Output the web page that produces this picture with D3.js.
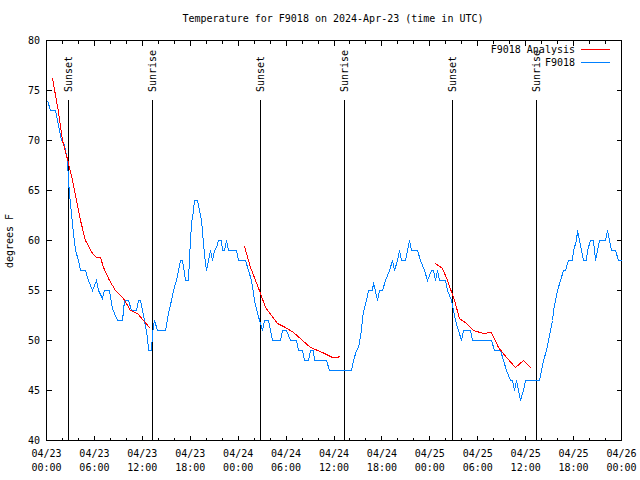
<!DOCTYPE html>
<html><head><meta charset="utf-8">
<script src="https://cdn.jsdelivr.net/npm/d3@7"></script>
<style>body{margin:0;background:#fff}svg{display:block}text{font-family:"DejaVu Sans Mono",monospace;font-size:10px;fill:#000}</style>
</head><body><svg id="c" width="640" height="480"></svg>
<script>
// hours since 2024-04-23 00:00 UTC
const obsHours = [0.13,0.5,1.13,1.38,1.88,2.13,2.38,2.63,2.75,2.88,3.13,3.38,3.63,4.01,4.26,4.88,5.26,5.76,6.26,6.51,7.01,7.26,7.89,8.26,8.51,8.89,9.52,9.77,10.27,10.64,11.27,11.52,11.77,12.27,12.65,12.77,13.15,13.27,13.52,13.9,14.9,15.28,15.65,15.9,16.28,16.53,16.78,17.03,17.41,17.78,17.91,18.16,18.41,18.53,18.91,19.16,19.41,19.66,19.91,20.04,20.29,20.54,20.79,21.04,21.29,21.54,21.91,22.04,22.29,22.54,22.79,23.79,24.04,24.92,25.3,25.67,26.05,26.42,26.8,27.05,27.3,27.8,28.3,29.3,29.55,30.05,30.55,31.3,31.56,32.06,32.31,32.81,33.06,33.43,33.56,35.06,35.44,38.19,38.44,38.82,39.07,39.44,39.57,39.82,40.07,40.32,40.82,40.95,41.45,41.7,42.08,42.45,42.95,43.33,43.58,43.95,44.2,44.45,44.95,45.2,45.45,45.7,46.46,46.83,47.33,47.71,48.21,48.46,48.71,48.96,49.21,49.96,50.21,50.71,51.21,51.59,51.97,52.22,53.09,53.34,55.72,56.1,56.85,57.23,57.6,58.1,58.35,58.6,58.85,59.1,59.35,59.73,59.98,61.73,61.98,62.24,62.61,62.86,63.11,63.36,63.49,63.74,63.99,64.36,64.74,64.99,65.36,65.86,65.99,66.37,66.49,66.74,66.99,67.24,67.62,67.74,68.12,68.49,68.75,69.0,69.25,70.0,70.25,70.5,70.75,71.25,71.63,72.0];
const obsTemps = [74,73,73,72,70,69.8,69,68,66,64.7,62.7,60.7,59,58,57,57,56,55,56,55,54.2,55,55,53.2,52.7,52,52,54,54,53,53,54,54,52,50.3,49,49,50.7,52,51,51,52.7,54,55,56,57,58,58,56,56,58.3,61.7,63,64,64,63,62,59.7,57.7,57,58,59,58,59,59.3,60,60,59,59,60,59,59,58,58,57,56,54,52.7,51.7,51,52,52,50,50,51,51,50,50,49,49,48,48,49,49,48,48,47,47,48,49,49.3,51,52.3,53.3,54,55,55,55.8,54,55,55,56,57,58,57,58,59,58,58,59,60,59,59,58,57,56,57,57,56,57,56,56,55,54,52,51,50,51,51,50,50,49,49,48,47,46,46,45,46,45,44,45,46,46,47,48,49,50,51,52,53,54,55,56,57,57,58,58,59,60,61,60,59,58,58,59,60,60,58,59,60,60,61,60,59,59,58,58];
// analysis: null separates segments
const anaHours = [0.75,1.47,2.0,2.67,3.26,3.76,4.26,4.88,5.76,6.26,6.76,7.14,7.89,8.64,9.64,10.52,11.4,12.15,12.9,null,
  24.79,25.55,26.8,27.42,28.93,29.93,30.93,32.06,33.06,34.56,35.81,36.31,36.81,null,
  48.71,49.59,50.21,51.09,51.72,52.59,53.47,54.72,55.72,56.6,57.6,58.73,59.73,60.73];
const anaTemps = [76.2,73,70,68,66,64,62,60,58.7,58.3,58.3,57.3,56,55,54.2,53,52.7,52,51.3,null,
  59.4,57.3,54.7,53.3,51.7,51.3,50.8,50,49.3,48.8,48.3,48.3,48.4,null,
  57.7,57.2,56,54,52.2,51.7,51,50.7,50.8,49.3,48.3,47.3,48,47.2];
const sunHours = [2.79,13.31,26.84,37.36,50.88,61.4];
const sunLabels = ["Sunset","Sunrise","Sunset","Sunrise","Sunset","Sunrise"];
const yTicks = [40,45,50,55,60,65,70,75,80];
const seriesNames = ["F9018 Analysis","F9018"];
const seriesColors = ["#ff0000","#0080ff"];

const base = Date.UTC(2024,3,23);
const toDate = h => new Date(base + h*3600000);
const svg = d3.select("#c");
const x = d3.scaleUtc().domain([toDate(0), toDate(72)]).range([46.5, 621.5]);
const y = d3.scaleLinear().domain([40,80]).range([440.5, 40.5]);

// title
svg.append("text").attr("x",333).attr("y",22).attr("text-anchor","middle")
  .text("Temperature for F9018 on 2024-Apr-23 (time in UTC)");
// y label
svg.append("text").attr("transform","translate(13,241) rotate(-90)").attr("text-anchor","middle")
  .text("degrees F");

const g = svg.append("g").attr("shape-rendering","crispEdges");
// frame
g.append("rect").attr("x",46.5).attr("y",40.5).attr("width",575).attr("height",400)
  .attr("fill","none").attr("stroke","#000");
// y ticks
yTicks.forEach(v=>{
  g.append("line").attr("x1",46.5).attr("x2",51.5).attr("y1",y(v)).attr("y2",y(v)).attr("stroke","#000");
  g.append("line").attr("x1",621.5).attr("x2",616.5).attr("y1",y(v)).attr("y2",y(v)).attr("stroke","#000");
  svg.append("text").attr("x",40).attr("y",y(v)).attr("dy","0.35em").attr("text-anchor","end").text(v);
});
// x ticks
const major = d3.utcHour.every(6).range(toDate(0), toDate(72.01));
const minor = d3.utcHour.every(2).range(toDate(0), toDate(72.01));
minor.forEach(d=>{
  const isMajor = d.getUTCHours()%6===0;
  const len = isMajor?5:3;
  g.append("line").attr("x1",x(d)).attr("x2",x(d)).attr("y1",440.5).attr("y2",440.5-len).attr("stroke","#000");
  g.append("line").attr("x1",x(d)).attr("x2",x(d)).attr("y1",40.5).attr("y2",40.5+len).attr("stroke","#000");
});
const fDay = d3.utcFormat("%m/%d"), fHour = d3.utcFormat("%H:%M");
major.forEach(d=>{
  svg.append("text").attr("x",x(d)).attr("y",457).attr("text-anchor","middle").text(fDay(d));
  svg.append("text").attr("x",x(d)).attr("y",471).attr("text-anchor","middle").text(fHour(d));
});
// sun lines
sunHours.forEach((h,i)=>{
  const xx = Math.round(x(toDate(h))-0.5)+0.5;
  g.append("line").attr("x1",xx).attr("x2",xx).attr("y1",100).attr("y2",440).attr("stroke","#000");
  svg.append("text").attr("transform",`translate(${xx},92) rotate(-90)`).attr("dy","0.35em")
    .attr("text-anchor","start").text(sunLabels[i]);
});
// data lines
const obs = obsHours.map((h,i)=>({t:toDate(h),v:obsTemps[i]}));
const ana = anaHours.map((h,i)=>({t:h===null?null:toDate(h),v:anaTemps[i]}));
const line = d3.line().defined(d=>d.v!==null).x(d=>x(d.t)).y(d=>y(d.v));
g.append("path").datum(obs).attr("d",line).attr("fill","none").attr("stroke",seriesColors[1]).attr("stroke-width",1);
g.append("path").datum(ana).attr("d",line).attr("fill","none").attr("stroke",seriesColors[0]).attr("stroke-width",1);
// legend
seriesNames.forEach((n,i)=>{
  const yy = 49.5 + i*13;
  svg.append("text").attr("x",575).attr("y",yy).attr("dy","0.35em").attr("text-anchor","end").text(n);
  g.append("line").attr("x1",581).attr("x2",610).attr("y1",yy).attr("y2",yy).attr("stroke",seriesColors[i]);
});
</script></body></html>
